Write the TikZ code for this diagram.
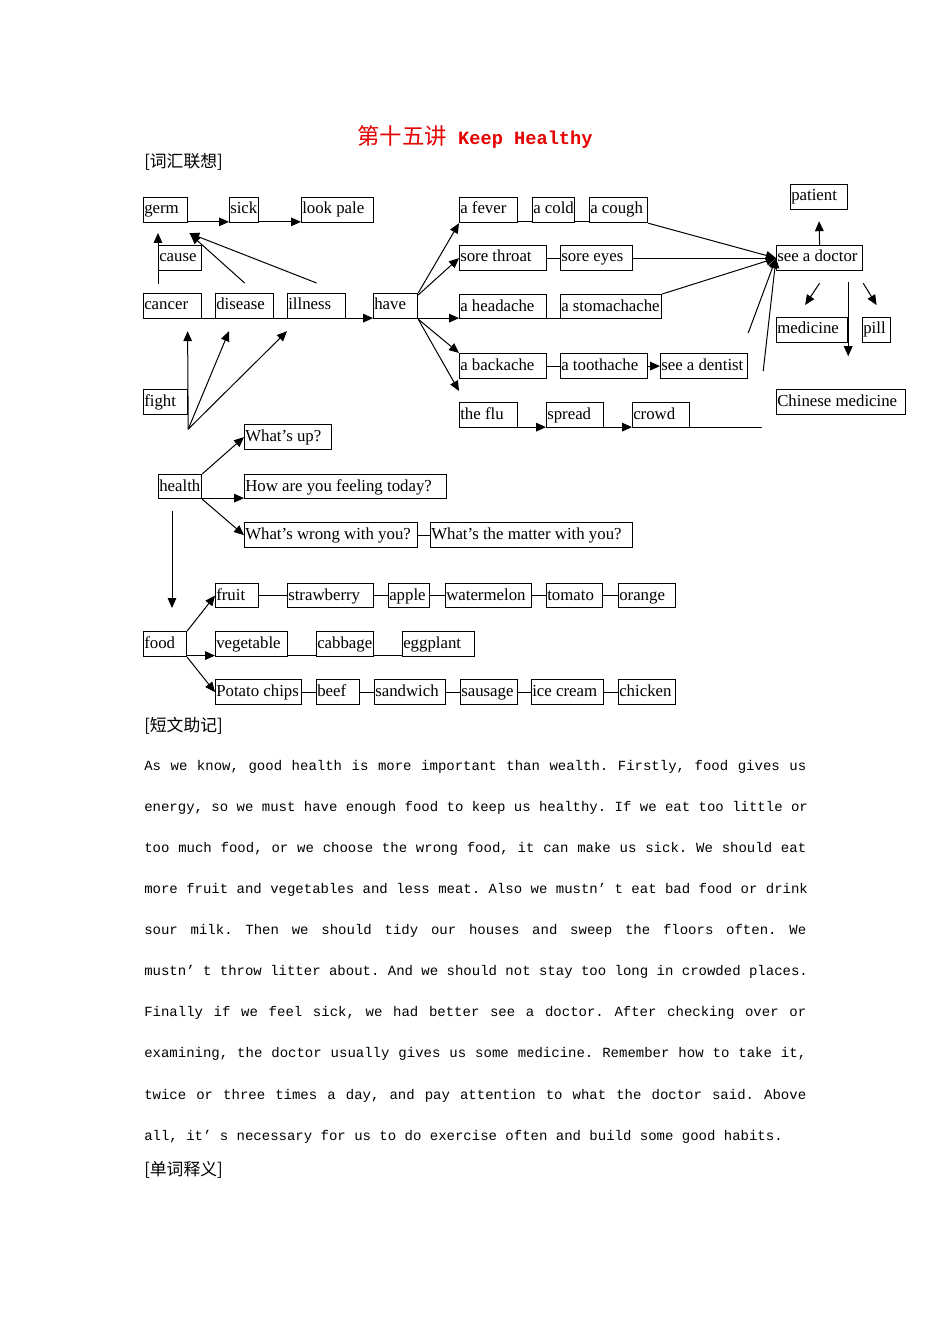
\documentclass[tikz,border=0pt]{standalone}
\usepackage{fontspec}
\setmainfont{Liberation Serif}
\newfontfamily\cjk{Noto Sans CJK SC}
\newfontfamily\monof{Liberation Mono}
\usetikzlibrary{arrows.meta,calc}
\definecolor{titred}{RGB}{230,0,0}
\tikzset{
  box/.style={draw, line width=0.9pt, inner sep=0, anchor=north west},
  lbl/.style={anchor=base west, inner sep=0, font=\fontsize{12.6}{14}\selectfont},
  arr/.style={-{Triangle[length=7.5pt,width=6.5pt]}, line width=0.75pt},
  ln/.style={line width=0.75pt},
  head/.style={anchor=base west, inner sep=0, font=\cjk\fontsize{12.6}{14}\selectfont},
  para/.style={anchor=base west, inner sep=0, font=\monof\fontsize{10.5}{12}\selectfont},
}
\newcommand\bx[6]{%
  \node[box, minimum width={(#4-#2)*0.75pt}, minimum height={(#5-#3)*0.75pt}] (#1) at (#2,#3) {};
  \node[lbl] (#1-t) at ({#2+1},{#3+17}) {#6};}
\newcommand\pline[3]{%
  \node[para] (#1) at (144,#2) {\frenchspacing\spaceskip=6.3pt plus 1fil\relax\hbox to 496.5pt{#3}};}
\begin{document}
\begin{tikzpicture}[x=0.75pt,y=-0.75pt]
\path[use as bounding box, fill=white] (0,0) rectangle (950,1344);

% title and headings
\node[anchor=base, inner sep=0, text=titred] (title) at (475,145)
  {{\cjk\fontsize{16.8}{18}\selectfont 第十五讲}{\monof\bfseries\fontsize{14}{16}\selectfont\ Keep Healthy}};
\node[head] (h1) at (144,168) {[词汇联想]};
\node[head] (h2) at (144,731) {[短文助记]};
\node[head] (h3) at (144,1175) {[单词释义]};

% boxes
\bx{germ}{143}{197}{187}{222}{germ}
\bx{sick}{229}{197}{258}{222}{sick}
\bx{lookpale}{301}{197}{373}{222}{look pale}
\bx{cause}{158}{245}{201}{270}{cause}
\bx{cancer}{143}{293}{201}{318}{cancer}
\bx{disease}{215}{293}{273}{318}{disease}
\bx{illness}{287}{293}{345}{318}{illness}
\bx{have}{373}{293}{417}{318}{have}
\bx{fever}{459}{197}{517}{222}{a fever}
\bx{cold}{532}{197}{574}{222}{a cold}
\bx{cough}{589}{197}{647}{222}{a cough}
\bx{patient}{790}{184}{847}{209}{patient}
\bx{doctor}{776}{245}{862}{270}{see a doctor}
\bx{throat}{459}{245}{546}{270}{sore throat}
\bx{eyes}{560}{245}{632}{270}{sore eyes}
\bx{headache}{459}{294}{546}{318}{a headache}
\bx{stomach}{560}{294}{661}{318}{a stomachache}
\bx{backache}{459}{353}{546}{378}{a backache}
\bx{toothache}{560}{353}{647}{378}{a toothache}
\bx{dentist}{660}{353}{747}{378}{see a dentist}
\bx{medicine}{776}{317}{847}{342}{medicine}
\bx{pill}{862}{317}{890}{342}{pill}
\bx{chinese}{776}{389}{905}{414}{Chinese medicine}
\bx{flu}{459}{402}{517}{427}{the flu}
\bx{spread}{546}{402}{603}{427}{spread}
\bx{crowd}{632}{402}{689}{427}{crowd}
\bx{fight}{143}{389}{187}{414}{fight}
\bx{whatsup}{244}{424}{331}{449}{What’s up?}
\bx{health}{158}{474}{201}{498}{health}
\bx{how}{244}{474}{446}{498}{How are you feeling today?}
\bx{wrong}{244}{522}{417}{547}{What’s wrong with you?}
\bx{matter}{430}{522}{632}{547}{What’s the matter with you?}
\bx{food}{143}{631}{186}{656}{food}
\bx{fruit}{215}{583}{258}{607}{fruit}
\bx{strawberry}{287}{583}{373}{607}{strawberry}
\bx{apple}{388}{583}{429}{607}{apple}
\bx{watermelon}{445}{583}{531}{607}{watermelon}
\bx{tomato}{546}{583}{602}{607}{tomato}
\bx{orange}{618}{583}{675}{607}{orange}
\bx{vegetable}{215}{631}{287}{656}{vegetable}
\bx{cabbage}{316}{631}{373}{656}{cabbage}
\bx{eggplant}{402}{631}{474}{656}{eggplant}
\bx{chips}{215}{679}{301}{704}{Potato chips}
\bx{beef}{316}{679}{359}{704}{beef}
\bx{sandwich}{374}{679}{445}{704}{sandwich}
\bx{sausage}{460}{679}{517}{704}{sausage}
\bx{icecream}{531}{679}{603}{704}{ice cream}
\bx{chicken}{618}{679}{675}{704}{chicken}

% connectors: germ group
\draw[arr] ([yshift=1pt]germ.south east) -- ([yshift=1pt]sick.south west);
\draw[arr] ([yshift=1pt]sick.south east) -- ([yshift=1pt]lookpale.south west);
\draw[arr] ($(cause.south west)+(0,13)$) -- ($(cause.north west)+(0,-12)$);
\draw[arr] ($(disease.north)+(0,-10)$) -- ($(germ.south east)+(2,11)$);
\draw[arr] ($(illness.north)+(0,-10)$) -- ($(germ.south east)+(1,10)$);
\draw[ln] ([yshift=0.8pt]cancer.south east) -- ([yshift=0.8pt]disease.south west);
\draw[ln] ([yshift=0.8pt]disease.south east) -- ([yshift=0.8pt]illness.south west);
\draw[arr] ([yshift=0.8pt]illness.south east) -- ([yshift=0.8pt]have.south west);

% have group
\draw[arr] (have.north east) -- (fever.south west);
\draw[arr] ([yshift=-1.5pt]have.north east) -- (throat.west);
\draw[arr] ([yshift=0.8pt]have.south east) -- ([yshift=0.8pt]headache.south west);
\draw[arr] (have.south east) -- (backache.north west);
\coordinate (flutip) at ($(flu.north west)+(0,-11)$);
\draw[arr] (have.south east) -- (flutip);
\draw[ln] ([yshift=1pt]fever.south east) -- ([yshift=1pt]cold.south west);
\draw[ln] ([yshift=1pt]cold.south east) -- ([yshift=1pt]cough.south west);
\draw[arr] (cough.south east) -- (doctor.west);
\draw[ln] (throat.east) -- (eyes.west);
\draw[arr] (eyes.east) -- (doctor.west);
\draw[ln] ([yshift=0.8pt]headache.south east) -- ([yshift=0.8pt]stomach.south west);
\draw[arr] (stomach.north east) -- (doctor.west);
\draw[ln] (backache.east) -- (toothache.west);
\draw[arr] (toothache.east) -- (dentist.west);
\coordinate (d1) at ($(dentist.north east)+(0,-20)$);
\draw[arr] (d1) -- (doctor.west);
\coordinate (d2) at ($(dentist.east)+(15,5)$);
\draw[arr] (d2) -- (doctor.west);
\draw[arr] (doctor.north) -- ($(patient.south)+(0,11)$);
\draw[arr] ($(doctor.south)+(0,12)$) -- ($(medicine.north)+(-7,-12)$);
\draw[arr] ($(doctor.south east)+(0,12)$) -- ($(pill.north)+(0,-12)$);
\draw[arr] ($(medicine.north east)+(0,-35)$) -- ($(medicine.south east)+(0,13)$);
\draw[arr] ([yshift=0.8pt]flu.south east) -- ([yshift=0.8pt]spread.south west);
\draw[arr] ([yshift=0.8pt]spread.south east) -- ([yshift=0.8pt]crowd.south west);
\coordinate (cr) at ($(crowd.south east)+(72,-1)$);
\draw[ln] ($(crowd.south east)+(0,-1)$) -- (cr);

% fight
\coordinate (fo) at ($(fight.south east)+(0,14)$);
\draw[arr] (fo) -- ($(cancer.south)+(15,12)$);
\draw[arr] (fo) -- ($(disease.south west)+(14,12)$);
\draw[arr] (fo) -- ($(illness.south west)+(0,12)$);

% health
\draw[arr] (health.north east) -- (whatsup.west);
\draw[arr] ([yshift=0.8pt]health.south east) -- ([yshift=0.8pt]how.south west);
\draw[arr] (health.south east) -- (wrong.west);
\draw[ln] (wrong.east) -- (matter.west);
\draw[arr] ($(health.south west)+(14,12)$) -- ($(food.north west)+(29,-23)$);

% food
\draw[arr] (food.north east) -- (fruit.west);
\draw[arr] ([yshift=1.2pt]food.south east) -- ([yshift=1.2pt]vegetable.south west);
\draw[arr] (food.south east) -- (chips.west);
\draw[ln] (fruit.east) -- (strawberry.west);
\draw[ln] (strawberry.east) -- (apple.west);
\draw[ln] (apple.east) -- (watermelon.west);
\draw[ln] (watermelon.east) -- (tomato.west);
\draw[ln] (tomato.east) -- (orange.west);
\draw[ln] ([yshift=1.2pt]vegetable.south east) -- ([yshift=1.2pt]cabbage.south west);
\draw[ln] ([yshift=1.2pt]cabbage.south east) -- ([yshift=1.2pt]eggplant.south west);
\draw[ln] (chips.east) -- (beef.west);
\draw[ln] (beef.east) -- (sandwich.west);
\draw[ln] (sandwich.east) -- (sausage.west);
\draw[ln] (sausage.east) -- (icecream.west);
\draw[ln] (icecream.east) -- (chicken.west);

% paragraph
\pline{p1}{770}{As we know, good health is more important than wealth. Firstly, food gives us}
\pline{p2}{811}{energy, so we must have enough food to keep us healthy. If we eat too little or}
\pline{p3}{852}{too much food, or we choose the wrong food, it can make us sick. We should eat}
\pline{p4}{893}{more fruit and vegetables and less meat. Also we mustn’ t eat bad food or drink}
\pline{p5}{934}{sour milk. Then we should tidy our houses and sweep the floors often. We}
\pline{p6}{975}{mustn’ t throw litter about. And we should not stay too long in crowded places.}
\pline{p7}{1016}{Finally if we feel sick, we had better see a doctor. After checking over or}
\pline{p8}{1057}{examining, the doctor usually gives us some medicine. Remember how to take it,}
\pline{p9}{1099}{twice or three times a day, and pay attention to what the doctor said. Above}
\node[para] (p10) at (144,1140) {all, it’ s necessary for us to do exercise often and build some good habits.};
\end{tikzpicture}
\end{document}
